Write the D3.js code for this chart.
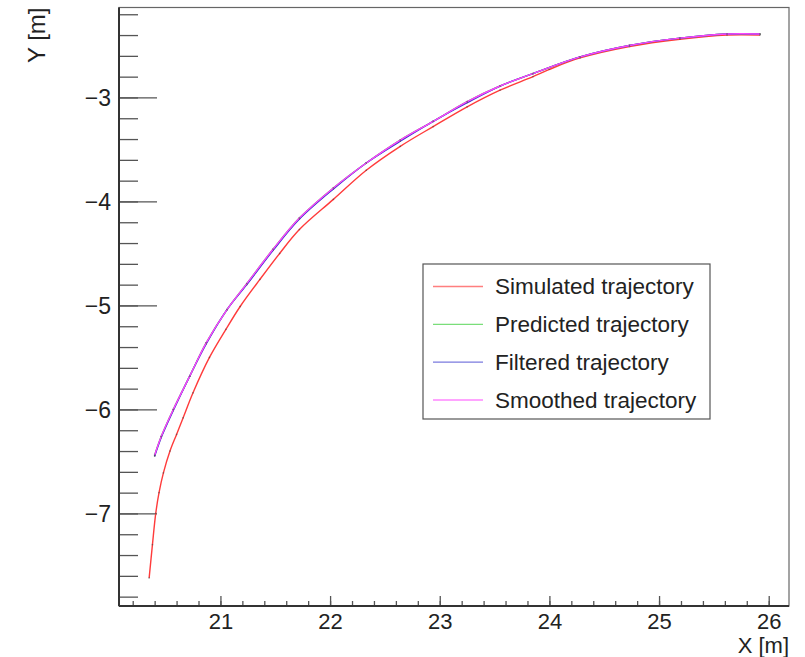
<!DOCTYPE html>
<html>
<head>
<meta charset="utf-8">
<script src="https://cdn.jsdelivr.net/npm/d3@7"></script>
<style>
  body { margin: 0; background: #fff; }
  text { font-family: "Liberation Sans", Arial, Helvetica, sans-serif; fill: #222; }
</style>
</head>
<body>
<svg id="chart" width="805" height="657"></svg>
<script>
// values
var simX = [20.35, 20.38, 20.41, 20.44, 20.48, 20.54, 20.60, 20.66, 20.75, 20.90, 21.05, 21.18, 21.36, 21.54, 21.72, 22.03, 22.33, 22.64, 22.94, 23.25, 23.55, 23.85, 24.00, 24.28, 24.73, 25.19, 25.62, 25.92];
var simY = [-7.62, -7.30, -7.00, -6.80, -6.61, -6.40, -6.24, -6.08, -5.84, -5.50, -5.23, -5.01, -4.75, -4.50, -4.27, -3.98, -3.70, -3.47, -3.28, -3.09, -2.93, -2.80, -2.73, -2.62, -2.51, -2.44, -2.40, -2.40];

var predX = [20.40, 20.46, 20.57, 20.72, 20.87, 21.06, 21.24, 21.48, 21.72, 22.03, 22.33, 22.64, 22.94, 23.25, 23.55, 23.85, 24.28, 24.73, 25.19, 25.62, 25.92];
var predY = [-6.44, -6.26, -6.00, -5.68, -5.36, -5.04, -4.79, -4.46, -4.16, -3.87, -3.63, -3.41, -3.23, -3.04, -2.89, -2.77, -2.61, -2.50, -2.43, -2.39, -2.39];

var filtX = [20.40, 20.46, 20.57, 20.72, 20.87, 21.06, 21.24, 21.48, 21.72, 22.03, 22.33, 22.64, 22.94, 23.25, 23.55, 23.85, 24.28, 24.73, 25.19, 25.62, 25.92];
var filtY = [-6.45, -6.27, -6.01, -5.68, -5.37, -5.04, -4.80, -4.47, -4.17, -3.88, -3.63, -3.42, -3.23, -3.05, -2.89, -2.77, -2.61, -2.50, -2.43, -2.39, -2.39];

var smoothX = [20.40, 20.46, 20.57, 20.72, 20.87, 21.06, 21.24, 21.48, 21.72, 22.03, 22.33, 22.64, 22.94, 23.25, 23.55, 23.85, 24.28, 24.73, 25.19, 25.62, 25.92];
var smoothY = [-6.44, -6.26, -6.00, -5.68, -5.36, -5.04, -4.79, -4.46, -4.16, -3.87, -3.63, -3.41, -3.23, -3.04, -2.89, -2.77, -2.61, -2.50, -2.43, -2.39, -2.39];

var seriesNames = ["Simulated trajectory", "Predicted trajectory", "Filtered trajectory", "Smoothed trajectory"];
var seriesColors = ["#ff3b3b", "#33cc33", "#3333cc", "#ff44ff"];

var xMajor = [21, 22, 23, 24, 25, 26];
var yMajor = [-3, -4, -5, -6, -7];

var svg = d3.select("#chart");

var frame = { left: 119, right: 789, top: 7.5, bottom: 606 };

var x = d3.scaleLinear().domain([20.075, 26.185]).range([frame.left, frame.right]);
var y = d3.scaleLinear().domain([-7.89, -2.135]).range([frame.bottom, frame.top]);

var minus = function (v) { return String(v).replace("-", "\u2212"); };

// minor tick values every 0.2
var xMinor = d3.range(20.2, 26.1, 0.2).map(function (v) { return Math.round(v * 10) / 10; });
var yMinor = d3.range(-7.8, -2.1, 0.2).map(function (v) { return Math.round(v * 10) / 10; });

// Frame (top / right edges thin)
svg.append("rect")
    .attr("x", frame.left).attr("y", frame.top)
    .attr("width", frame.right - frame.left).attr("height", frame.bottom - frame.top)
    .attr("fill", "none").attr("stroke", "#666").attr("stroke-width", 1.2);

function styleAxis(g) {
    g.select(".domain").remove();
    g.selectAll(".tick line").attr("stroke", "#555").attr("stroke-width", 1.3);
}

// X axis: minor, then major
svg.append("g")
    .attr("transform", "translate(0," + frame.bottom + ")")
    .call(d3.axisBottom(x).tickValues(xMinor).tickSize(-5).tickFormat(""))
    .call(styleAxis);

svg.append("g")
    .attr("transform", "translate(0," + frame.bottom + ")")
    .call(d3.axisBottom(x).tickValues(xMajor).tickSize(-10).tickPadding(0).tickFormat(minus))
    .call(styleAxis)
    .call(function (g) {
        g.selectAll(".tick text")
            .attr("y", 23).attr("dy", 0)
            .style("font-size", "22px")
            .attr("font-family", null);
    });

// Y axis: minor, then major
svg.append("g")
    .attr("transform", "translate(" + frame.left + ",0)")
    .call(d3.axisLeft(y).tickValues(yMinor).tickSize(-19).tickFormat(""))
    .call(styleAxis);

svg.append("g")
    .attr("transform", "translate(" + frame.left + ",0)")
    .call(d3.axisLeft(y).tickValues(yMajor).tickSize(-38).tickFormat(minus))
    .call(styleAxis)
    .call(function (g) {
        g.selectAll(".tick text")
            .attr("x", -8).attr("dy", "0.35em")
            .style("font-size", "23px")
            .attr("font-family", null);
    });

// Bold axis lines on left and bottom
svg.append("line")
    .attr("x1", frame.left).attr("x2", frame.left)
    .attr("y1", frame.top).attr("y2", frame.bottom)
    .attr("stroke", "#333").attr("stroke-width", 2);
svg.append("line")
    .attr("x1", frame.left).attr("x2", frame.right)
    .attr("y1", frame.bottom).attr("y2", frame.bottom)
    .attr("stroke", "#333").attr("stroke-width", 2);

// Axis titles
svg.append("text")
    .attr("x", frame.right).attr("y", 653)
    .attr("text-anchor", "end")
    .style("font-size", "22px")
    .text("X [m]");

svg.append("text")
    .attr("transform", "translate(45," + frame.top + ") rotate(-90)")
    .attr("text-anchor", "end")
    .style("font-size", "24px")
    .text("Y [m]");

// Curves
var series = [
    { xs: simX, ys: simY },
    { xs: predX, ys: predY },
    { xs: filtX, ys: filtY },
    { xs: smoothX, ys: smoothY }
];

var line = d3.line()
    .curve(d3.curveCatmullRom.alpha(0.5))
    .x(function (d) { return x(d[0]); })
    .y(function (d) { return y(d[1]); });

series.forEach(function (s, i) {
    var pts = s.xs.map(function (v, j) { return [v, s.ys[j]]; });
    svg.append("path")
        .datum(pts)
        .attr("fill", "none")
        .attr("stroke", seriesColors[i])
        .attr("stroke-width", 1.4)
        .attr("d", line);
    svg.append("g").selectAll("rect")
        .data(pts)
        .enter().append("rect")
        .attr("x", function (d) { return x(d[0]) - 0.7; })
        .attr("y", function (d) { return y(d[1]) - 0.7; })
        .attr("width", 1.4).attr("height", 1.4)
        .attr("fill", "#444").attr("opacity", 0.6);
});

// Legend
var legend = svg.append("g").attr("transform", "translate(423,264)");
legend.append("rect")
    .attr("width", 287).attr("height", 155)
    .attr("fill", "#fff").attr("stroke", "#555").attr("stroke-width", 1.2);

var rowY = d3.scalePoint().domain(seriesNames).range([22.5, 136]);

seriesNames.forEach(function (name, i) {
    var row = legend.append("g").attr("transform", "translate(0," + rowY(name) + ")");
    row.append("line")
        .attr("x1", 10).attr("x2", 60)
        .attr("stroke", seriesColors[i]).attr("stroke-opacity", 0.65)
        .attr("stroke-width", 1.4);
    row.append("text")
        .attr("x", 72).attr("dy", "0.35em")
        .style("font-size", "22.5px")
        .text(name);
});
</script>
</body>
</html>
